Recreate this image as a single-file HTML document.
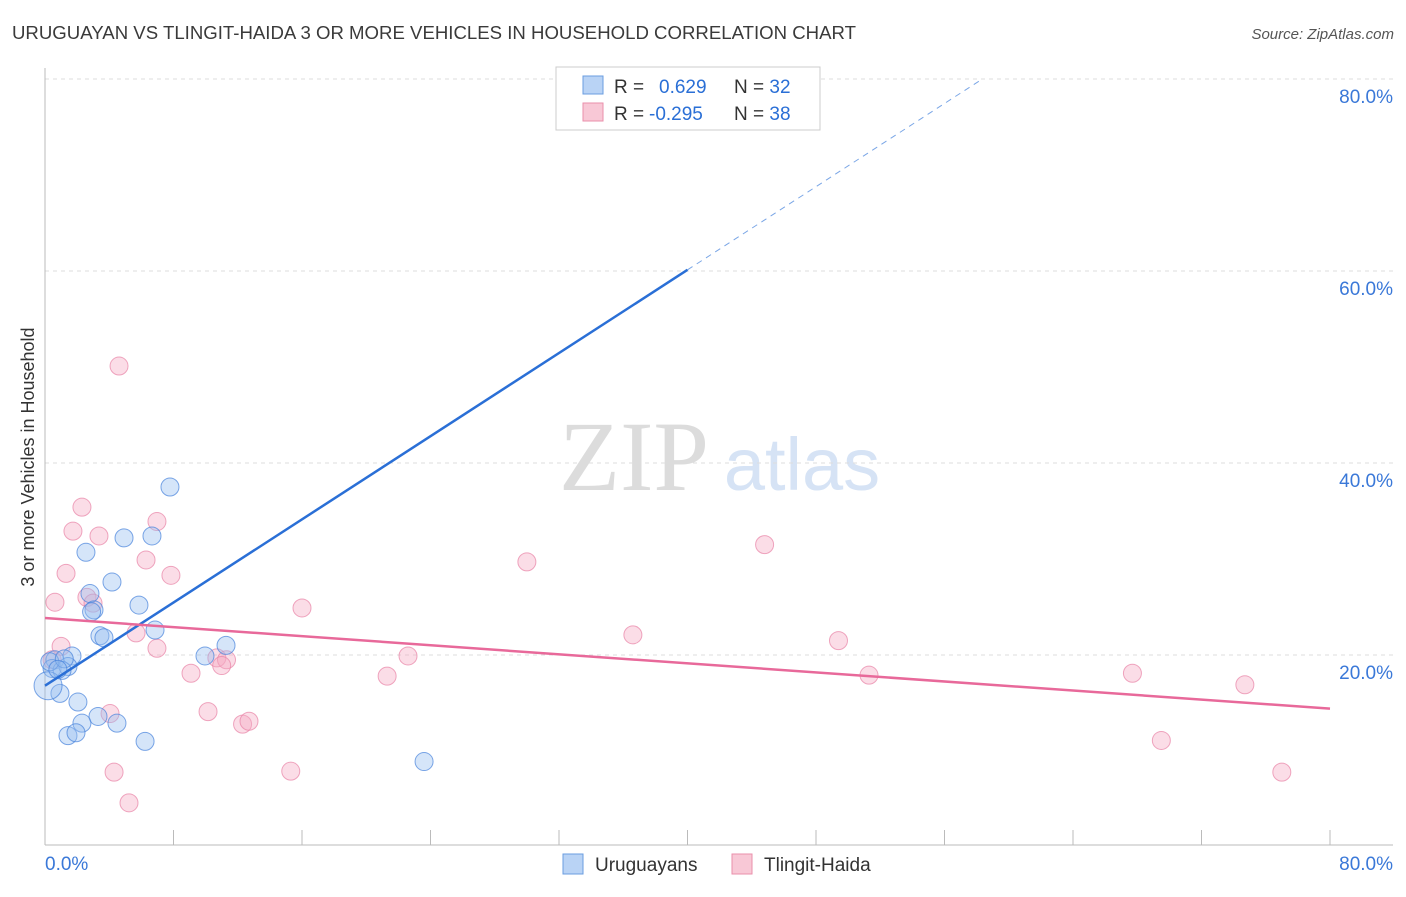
<!DOCTYPE html>
<html><head><meta charset="utf-8"><style>
body{margin:0;background:#fff;font-family:"Liberation Sans",sans-serif}
svg text{font-family:"Liberation Sans",sans-serif}
</style></head><body>
<svg id="c" width="1406" height="892">
<text x="12" y="39" font-size="18" fill="#3a3a3a" textLength="844" lengthAdjust="spacingAndGlyphs">URUGUAYAN VS TLINGIT-HAIDA 3 OR MORE VEHICLES IN HOUSEHOLD CORRELATION CHART</text>
<text x="1394" y="39" font-size="15" fill="#555" text-anchor="end" font-style="italic">Source: ZipAtlas.com</text>
<text x="34" y="457" font-size="18" fill="#333" text-anchor="middle" transform="rotate(-90 34 457)">3 or more Vehicles in Household</text>
<text x="634" y="490" font-size="100" fill="#dcdcdc" style="font-family:'Liberation Serif',serif" text-anchor="middle">ZIP</text>
<text x="802" y="490" font-size="74" fill="#d6e3f5" text-anchor="middle">atlas</text>
<g id="grid"></g><g id="pts"></g><g id="lines"></g>
<g>
<rect x="556" y="67" width="264" height="63" fill="#fff" stroke="#ccc"/>
<rect x="583" y="76" width="20" height="18" fill="#b9d3f5" stroke="#6a9de0"/>
<rect x="583" y="103" width="20" height="18" fill="#f8c8d6" stroke="#ea8fab"/>
<text x="614" y="93" font-size="19" fill="#333">R = <tspan x="659" fill="#2a6fd6">0.629</tspan><tspan x="734" fill="#333">N = </tspan><tspan fill="#2a6fd6">32</tspan></text>
<text x="614" y="120" font-size="19" fill="#333">R = <tspan x="649" fill="#2a6fd6">-0.295</tspan><tspan x="734" fill="#333">N = </tspan><tspan fill="#2a6fd6">38</tspan></text>
</g>
<g>
<rect x="563" y="854" width="20" height="20" fill="#b9d3f5" stroke="#6a9de0"/>
<text x="595" y="871" font-size="19" fill="#333">Uruguayans</text>
<rect x="732" y="854" width="20" height="20" fill="#f8c8d6" stroke="#ea8fab"/>
<text x="764" y="871" font-size="19" fill="#333">Tlingit-Haida</text>
</g>
</svg>
<script>
const blueX=[7.78,6.66,4.92,2.55,4.17,2.80,5.85,3.05,6.85,3.42,3.67,11.27,9.96,0.62,1.68,0.44,1.43,1.06,0.93,2.05,3.30,2.30,4.48,1.43,1.93,6.23,23.6,0.19,0.3,1.2,0.8,2.9];
const blueY=[37.5,32.4,32.2,30.7,27.6,26.4,25.2,24.7,22.6,22.0,21.8,21.0,19.9,19.5,19.9,18.6,18.8,18.4,16.0,15.1,13.6,12.9,12.9,11.6,11.9,11.0,8.9,16.8,19.3,19.6,18.5,24.5];
const pinkX=[4.61,2.30,6.97,1.74,3.36,6.29,1.31,7.84,30.0,44.8,0.62,2.61,2.99,16.0,5.67,36.6,49.4,1.0,6.97,10.7,11.3,22.6,11.0,9.09,21.3,51.3,67.7,74.7,4.05,10.15,12.3,12.7,69.5,4.30,15.3,77.0,5.23,0.44];
const pinkY=[50.1,35.4,33.9,32.9,32.4,29.9,28.5,28.3,29.7,31.5,25.5,26.0,25.4,24.9,22.3,22.1,21.5,20.9,20.7,19.7,19.5,19.9,18.9,18.1,17.8,17.9,18.1,16.9,13.9,14.1,12.8,13.1,11.1,7.8,7.9,7.8,4.6,19.5];
const yTicks=[20,40,60,80];
const xTickLabels=["0.0%","80.0%"];
const blueTrend=[16.8,1.083];
const pinkTrend=[23.85,-0.118];
const NS="http://www.w3.org/2000/svg";
const sx=v=>45+v*1285/80, sy=v=>847-v*9.6;
function mk(p,t,a){const e=document.createElementNS(NS,t);for(const k in a)e.setAttribute(k,a[k]);p.appendChild(e);return e;}
const g=document.getElementById('grid');
yTicks.forEach(t=>{
const l=mk(g,'line',{x1:45,x2:1393,y1:sy(t),y2:sy(t),stroke:'#ddd','stroke-dasharray':'4,4'});


const tx=mk(g,'text',{x:1393,y:sy(t)+24,'font-size':19,fill:'#3a78d8','text-anchor':'end'});tx.textContent=t.toFixed(1)+'%';


});
const ax=mk(g,'line',{x1:45,x2:1393,y1:845,y2:845,stroke:'#bbb'});


const ay=mk(g,'line',{x1:45,x2:45,y1:68,y2:845,stroke:'#bbb'});


for(let i=1;i<=10;i++){const t=mk(g,'line',{x1:sx(i*8),x2:sx(i*8),y1:830,y2:845,stroke:'#bbb'});

}
const xl0=mk(g,'text',{x:45,y:870,'font-size':19,fill:'#3a78d8'});xl0.textContent=xTickLabels[0];


const xl1=mk(g,'text',{x:1393,y:870,'font-size':19,fill:'#3a78d8','text-anchor':'end'});xl1.textContent=xTickLabels[1];


const P=document.getElementById('pts');
pinkX.forEach((x,i)=>{const c=mk(P,'circle',{cx:sx(x),cy:sy(pinkY[i]),r:9,fill:'rgba(244,170,195,0.4)',stroke:'rgba(232,130,165,0.7)'});

});
blueX.forEach((x,i)=>{const c=mk(P,'circle',{cx:sx(x),cy:sy(blueY[i]),r:i==27?14:9,fill:'rgba(150,190,240,0.4)',stroke:'rgba(70,130,220,0.7)'});

});
const L=document.getElementById('lines');
const bEnd=40, bDash=(80-blueTrend[0])/blueTrend[1];
const b1=mk(L,'line',{x1:sx(0),y1:sy(blueTrend[0]),x2:sx(bEnd),y2:sy(blueTrend[0]+blueTrend[1]*bEnd),stroke:'#2a6fd6','stroke-width':2.5});


const b2=mk(L,'line',{x1:sx(bEnd),y1:sy(blueTrend[0]+blueTrend[1]*bEnd),x2:sx(bDash),y2:sy(80),stroke:'#7aa6e6','stroke-width':1,'stroke-dasharray':'6,5'});


const p1=mk(L,'line',{x1:sx(0),y1:sy(pinkTrend[0]),x2:sx(80),y2:sy(pinkTrend[0]+pinkTrend[1]*80),stroke:'#e8699a','stroke-width':2.5});


</script>
</body></html>
